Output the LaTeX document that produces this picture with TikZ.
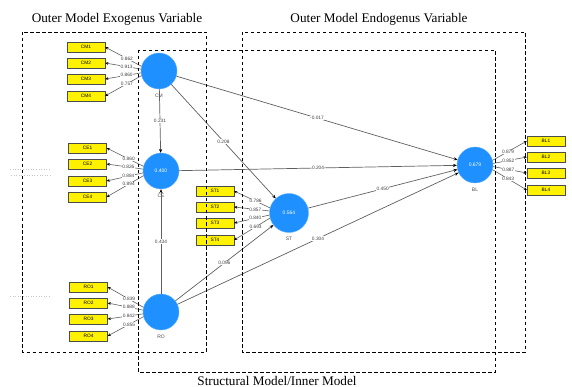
\documentclass[tikz,border=0pt]{standalone}
\usepackage{fontspec}
\setmainfont{Liberation Serif}
\newfontfamily\plsfont{Liberation Sans}
\usepackage{tikz}
\usetikzlibrary{arrows.meta,positioning}
\definecolor{latentblue}{RGB}{30,144,255}
\definecolor{pathgray}{RGB}{95,95,95}

\begin{document}
\begin{tikzpicture}[x=1pt,y=-1pt,
  latent/.style={circle,fill=latentblue,draw=latentblue!70!white,minimum size=36pt,inner sep=0pt,text=white,font=\plsfont\fontsize{5}{6}\selectfont},
  indicator/.style={rectangle,fill=yellow,draw=gray!60!black,line width=0.3pt,minimum width=38pt,minimum height=10pt,inner sep=0pt,font=\plsfont\fontsize{4.8}{5.5}\selectfont},
  lvname/.style={font=\plsfont\fontsize{5}{6}\selectfont,text=black!70,inner sep=0.5pt},
  coef/.style={font=\plsfont\fontsize{4.8}{5.5}\selectfont,text=black!75,fill=white,inner sep=0.4pt},
  inner/.style={draw=pathgray,line width=0.7pt,-{Stealth[length=3.8pt,width=3.2pt,black]}},
  loading/.style={draw=pathgray,line width=0.6pt,-{Stealth[length=3.2pt,width=2.8pt,black]}},
  frame/.style={dashed,line width=0.8pt,dash pattern=on 3.5pt off 2.5pt},
  title/.style={font=\fontsize{13.2}{15}\selectfont,inner sep=0pt}]
\useasboundingbox (0,0) rectangle (572,387);

% latent variables
\node(cm)[latent] at (159,71) {};
\node(ce)[latent] at (161,171) {0.400};
\node(st)[latent,minimum size=39pt] at (289,213) {0.564};
\node(bl)[latent] at (475,165) {0.679};
\node(ro)[latent] at (161,312) {};

\node(cmname)[lvname,below=4pt of cm]{CM};
\node(cename)[lvname,below=4pt of ce]{CE};
\node(stname)[lvname,below=4pt of st]{ST};
\node(blname)[lvname,below=4pt of bl]{BL};
\node(roname)[lvname,below=4pt of ro]{RO};

% indicators
\node(cm1)[indicator] at (86,47) {CM1};
\node(cm2)[indicator] at (86,63) {CM2};
\node(cm3)[indicator] at (86,79) {CM3};
\node(cm4)[indicator] at (86,96) {CM4};

\node(ce1)[indicator] at (87.5,148) {CE1};
\node(ce2)[indicator] at (87.5,164) {CE2};
\node(ce3)[indicator] at (87.5,181) {CE3};
\node(ce4)[indicator] at (87.5,197) {CE4};

\node(st1)[indicator] at (215,191) {ST1};
\node(st2)[indicator] at (215,207) {ST2};
\node(st3)[indicator] at (215,223) {ST3};
\node(st4)[indicator] at (215,240) {ST4};

\node(ro1)[indicator] at (88.5,287) {RO1};
\node(ro2)[indicator] at (88.5,303) {RO2};
\node(ro3)[indicator] at (88.5,319) {RO3};
\node(ro4)[indicator] at (88.5,336) {RO4};

\node(bl1)[indicator] at (546,141) {BL1};
\node(bl2)[indicator] at (546,157) {BL2};
\node(bl3)[indicator] at (546,173) {BL3};
\node(bl4)[indicator] at (546,190) {BL4};

% outer loadings
\draw [loading] (cm.165) to node[coef,pos=0.4]{0.862} (cm1.east);
\draw [loading] (cm.174) to node[coef,pos=0.4]{0.913} (cm2.east);
\draw [loading] (cm.186) to node[coef,pos=0.4]{0.860} (cm3.east);
\draw [loading] (cm.195) to node[coef,pos=0.4]{0.757} (cm4.east);

\draw [loading] (ce.165) to node[coef,pos=0.4]{0.860} (ce1.east);
\draw [loading] (ce.174) to node[coef,pos=0.4]{0.826} (ce2.east);
\draw [loading] (ce.186) to node[coef,pos=0.4]{0.884} (ce3.east);
\draw [loading] (ce.195) to node[coef,pos=0.4]{0.894} (ce4.east);

\draw [loading] (st.165) to node[coef,pos=0.4]{0.786} (st1.east);
\draw [loading] (st.174) to node[coef,pos=0.4]{0.857} (st2.east);
\draw [loading] (st.186) to node[coef,pos=0.4]{0.840} (st3.east);
\draw [loading] (st.195) to node[coef,pos=0.4]{0.693} (st4.east);

\draw [loading] (ro.165) to node[coef,pos=0.4]{0.839} (ro1.east);
\draw [loading] (ro.174) to node[coef,pos=0.4]{0.888} (ro2.east);
\draw [loading] (ro.186) to node[coef,pos=0.4]{0.842} (ro3.east);
\draw [loading] (ro.195) to node[coef,pos=0.4]{0.855} (ro4.east);

\draw [loading] (bl.15) to node[coef,pos=0.45]{0.879} (bl1.west);
\draw [loading] (bl.5) to node[coef,pos=0.45]{0.852} (bl2.west);
\draw [loading] (bl.-5) to node[coef,pos=0.45]{0.887} (bl3.west);
\draw [loading] (bl.-15) to node[coef,pos=0.45]{0.843} (bl4.west);

% inner model
\draw [inner] (cm) to node[coef]{0.231} (ce);
\draw [inner] (cm) to node[coef]{0.208} (st);
\draw [inner] (cm) to node[coef]{-0.017} (bl);
\draw [inner] (ce) to node[coef]{0.204} (bl);
\draw [inner] (st) to node[coef]{0.450} (bl);
\draw [inner] (ro) to node[coef]{0.434} (ce);
\draw [inner] (ro) to node[coef]{0.096} (st);
\draw [inner] (ro) to node[coef]{0.304} (bl);

% stray dotted marks at the left
\draw [gray!45,dotted,line width=0.6pt] (10,169) -- (50,169);
\draw [gray!45,dotted,line width=0.6pt] (11,175) -- (51,175);
\draw [gray!45,dotted,line width=0.6pt] (10,296) -- (50,296);

% frames
\draw [frame] (22.5,32) rectangle (206,352);
\draw [frame] (242,32) rectangle (525,352);
\draw [frame] (138,50) rectangle (495,372);

\node(exotitle)[title] at (117,19) {Outer Model Exogenus Variable};
\node(endotitle)[title] at (379,19) {Outer Model Endogenus Variable};
\node(innertitle)[title] at (277,381) {Structural Model/Inner Model};
\end{tikzpicture}
\end{document}
